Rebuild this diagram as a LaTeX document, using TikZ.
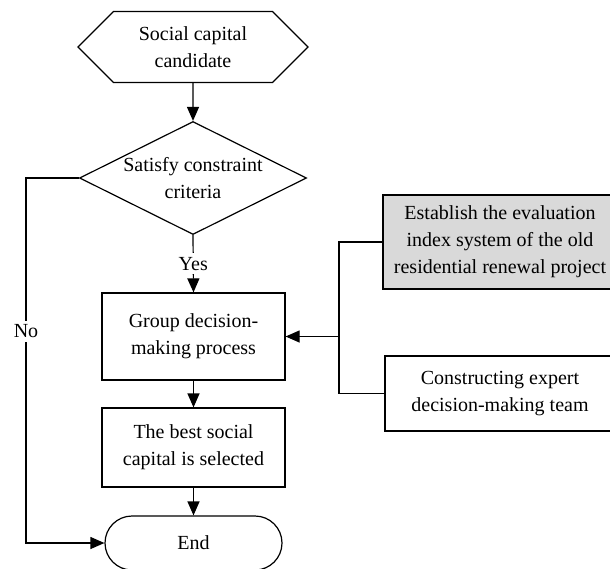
\documentclass[tikz,border=0pt]{standalone}
\usepackage{fontspec}
\setmainfont{Liberation Serif}
\usetikzlibrary{shapes,arrows.meta,positioning}

\begin{document}
\begin{tikzpicture}[x=0.5pt,y=-0.5pt,line width=0.6pt,
    every node/.style={font=\fontsize{10}{13.5}\selectfont,align=center,inner sep=0pt},
    box/.style={rectangle,draw},
    arr/.style={-{Triangle[width=6pt,length=7pt]}}]
    \useasboundingbox (0,0) rectangle (610,568);

    % Main flow
    \node[signal,signal to=east and west,signal pointer angle=90,draw,
          minimum width=115pt,minimum height=35.5pt] (cand) at (193,47) {Social capital\\candidate};
    \node[diamond,draw,aspect=2,minimum width=113.5pt,minimum height=56.5pt] (sat) at (193,178) {Satisfy constraint\\criteria};
    \node[box,minimum width=91.5pt,minimum height=43.5pt] (group) at (193.5,336.5) {Group decision-\\making process};
    \node[box,minimum width=91.5pt,minimum height=39.5pt] (best) at (193.5,447.5) {The best social\\capital is selected};
    \node[box,rounded corners=13.5pt,minimum width=88.5pt,minimum height=27pt] (end) at (193.5,543) {End};

    % Inputs
    \node[box,fill=gray!30,minimum width=117pt,minimum height=47pt] (index) at (500,242) {Establish the evaluation\\index system of the old\\residential renewal project};
    \node[box,minimum width=115pt,minimum height=37.5pt] (team) at (500,393.5) {Constructing expert\\decision-making team};

    % Connectors
    \draw[arr] (cand) -- (sat);
    \draw[arr] (sat.south) -- node[fill=white,inner sep=2pt,pos=0.5] {Yes} (group.north);
    \draw[arr] (group) -- (best);
    \draw[arr] (best) -- (end);
    \coordinate (left) at (26,178);
    \draw[arr] (sat.west) -- (left) |- node[fill=white,inner sep=2pt,pos=0.21] {No} (end.west);
    \coordinate (join) at (339,336.5);
    \draw (index.west) -| (join) |- (team.west);
    \draw[arr] (join) -- (group.east);
\end{tikzpicture}
\end{document}
